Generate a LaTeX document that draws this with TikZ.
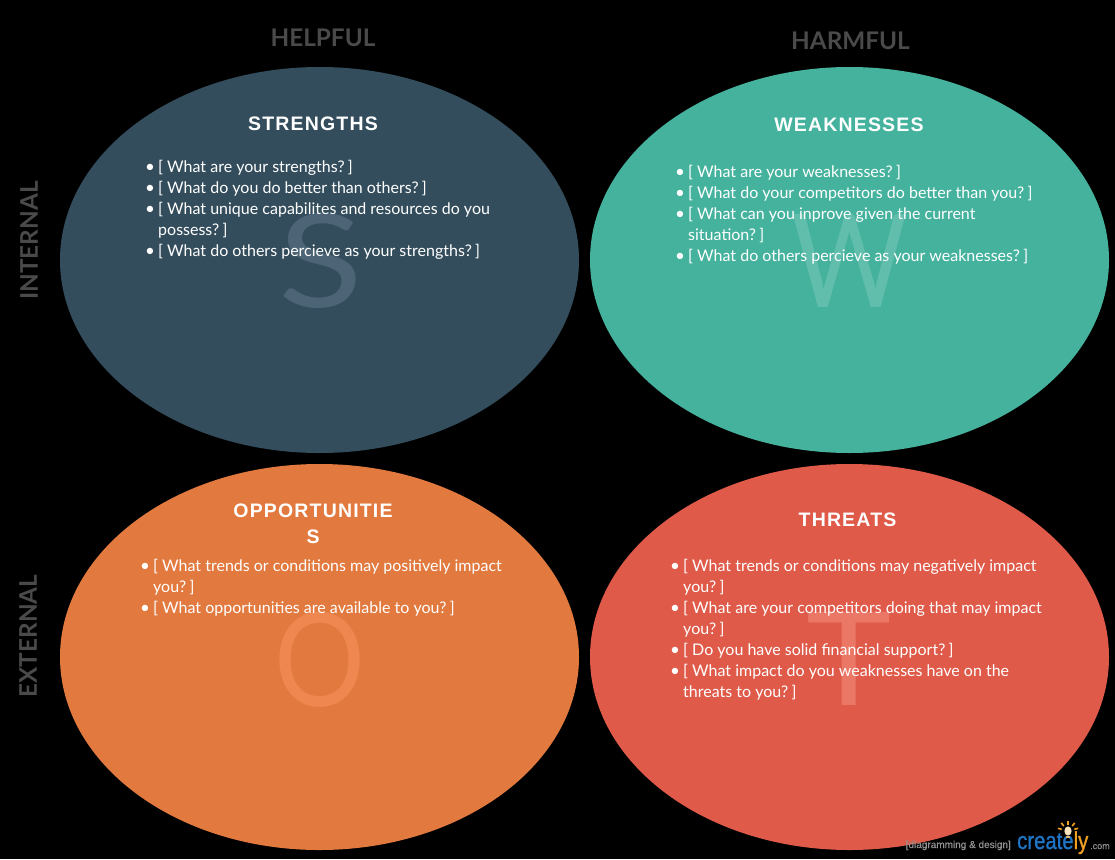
\documentclass[tikz,border=0pt]{standalone}
\usepackage{fontspec}
\setmainfont{Lato}
\newfontfamily\headf[LetterSpace=6]{Liberation Sans}
\newfontfamily\sidef{Lato}
\newfontfamily\logof[FakeBold=1.2]{Liberation Sans}
\newfontfamily\smallf[FakeBold=0.5]{Liberation Sans}
\definecolor{navy}{HTML}{334D5C}
\definecolor{teal}{HTML}{45B29D}
\definecolor{orng}{HTML}{E27A3F}
\definecolor{redd}{HTML}{DF5A49}
\definecolor{hdr}{HTML}{4A4A4A}
\definecolor{logoblue}{HTML}{1F74C4}
\definecolor{logoorange}{HTML}{F0A020}
\definecolor{letS}{HTML}{4C6476}
\definecolor{letW}{HTML}{61BEAC}
\definecolor{letO}{HTML}{EE8750}
\definecolor{letT}{HTML}{EB7767}
\newcommand{\bul}{\makebox[12pt][l]{\hspace*{-1pt}\fontsize{17}{21}\selectfont\raisebox{-0.2pt}{•}}}
\newcommand{\ind}{\hspace*{12pt}}
\newcommand{\rb}{ \kern-2.2pt]}
\tikzset{
  x=1pt,y=-1pt,
  blob/.style={ellipse,minimum width=519pt,minimum height=386pt,inner sep=0pt},
  letterbig/.style={font=\fontsize{130}{130}\selectfont,inner sep=0pt,transform shape},
  quadtitle/.style={font=\headf\bfseries\fontsize{19.5}{26}\selectfont,text=white,inner sep=0pt,align=center},
  listtext/.style={anchor=north west,inner sep=0pt,align=left,text=white,font=\fontsize{16}{21}\selectfont},
  axis/.style={font=\sidef\bfseries\fontsize{24.3}{24}\selectfont,text=hdr,inner sep=0pt},
}
\usetikzlibrary{shapes.geometric}
\begin{document}
\begin{tikzpicture}
\useasboundingbox (0,0) rectangle (1115,859);
\fill[black] (0,0) rectangle (1115,859);

\node[blob,fill=navy] (s) at (319.5,260) {};
\node[blob,fill=teal] (w) at (849.5,260) {};
\node[blob,fill=orng] (o) at (319.5,657) {};
\node[blob,fill=redd] (t) at (849.5,657) {};

\node[anchor=base east,inner sep=0pt,text=gray!85,font=\smallf\fontsize{10}{10}\selectfont] (tag) at (1011,848) {[diagramming \& design]};

\begin{scope}[xscale=1.2]
\node[letterbig,text=letS] (sl) at (320.5/1.2,261) {S};
\end{scope}
\begin{scope}[xscale=0.865]
\node[letterbig,text=letW] (wl) at (849.5/0.865,261) {W};
\end{scope}
\begin{scope}[xscale=0.875]
\node[letterbig,text=letO] (ol) at (320/0.875,659.5) {O};
\end{scope}
\begin{scope}[xscale=1.11]
\node[letterbig,text=letT] (tl) at (849/1.11,659) {T};
\end{scope}

\node[axis] (helpful) at (323,37.5) {HELPFUL};
\node[axis] (harmful) at (850.5,40.5) {HARMFUL};
\node[axis,rotate=90] (internal) at (29,240.5) {INTERNAL};
\node[axis,rotate=90] (external) at (28,636) {EXTERNAL};

\node[quadtitle] (st) at (313,123.7) {STRENGTHS};
\node[quadtitle] (wt) at (849,124.7) {WEAKNESSES};
\node[quadtitle] (ot) at (313,523.7) {OPPORTUNITIE\\S};
\node[quadtitle] (tt) at (847.5,519.7) {THREATS};

\node[listtext] (sb) at (146,160) {\bul[ What are your strengths?\rb\\
\bul[ What do you do better than others?\rb\\
\bul[ What unique capabilites and resources do you\\
\ind possess?\rb\\
\bul[ What do others percieve as your strengths?\rb};

\node[listtext] (wb) at (676,165) {\bul[ What are your weaknesses?\rb\\
\bul[ What do your competitors do better than you?\rb\\
\bul[ What can you inprove given the current\\
\ind situation?\rb\\
\bul[ What do others percieve as your weaknesses?\rb};

\node[listtext] (ob) at (141,559) {\bul[ What trends or conditions may positively impact\\
\ind you?\rb\\
\bul[ What opportunities are available to you?\rb};

\node[listtext] (tb) at (671,559) {\bul[ What trends or conditions may negatively impact\\
\ind you?\rb\\
\bul[ What are your competitors doing that may impact\\
\ind you?\rb\\
\bul[ Do you have solid financial support?\rb\\
\bul[ What impact do you weaknesses have on the\\
\ind threats to you?\rb};

% logo
\begin{scope}[yscale=1.2]
\node[anchor=base west,inner sep=0pt,transform shape,font=\logof\fontsize{20.3}{21}\selectfont] (logo) at (1017,849/1.2) {\textcolor{logoblue}{create}\textcolor{logoorange}{ly}};
\end{scope}
\node[anchor=base west,inner sep=0pt,font=\smallf\fontsize{9}{9}\selectfont,text=gray!85] (com) at (1090,849) {.com};
\foreach \a in {-165,-130,-90,-50,-15}
  \draw[logoorange,line width=1.6pt] (1068,831)++(\a:6.5) -- ++(\a:4);
\fill[white!70!logoorange] (1068,831) ellipse (3.6 and 4.6);
\fill[logoorange!80!logoblue!70!white] (1066,836) rectangle (1070,838);
\end{tikzpicture}
\end{document}
